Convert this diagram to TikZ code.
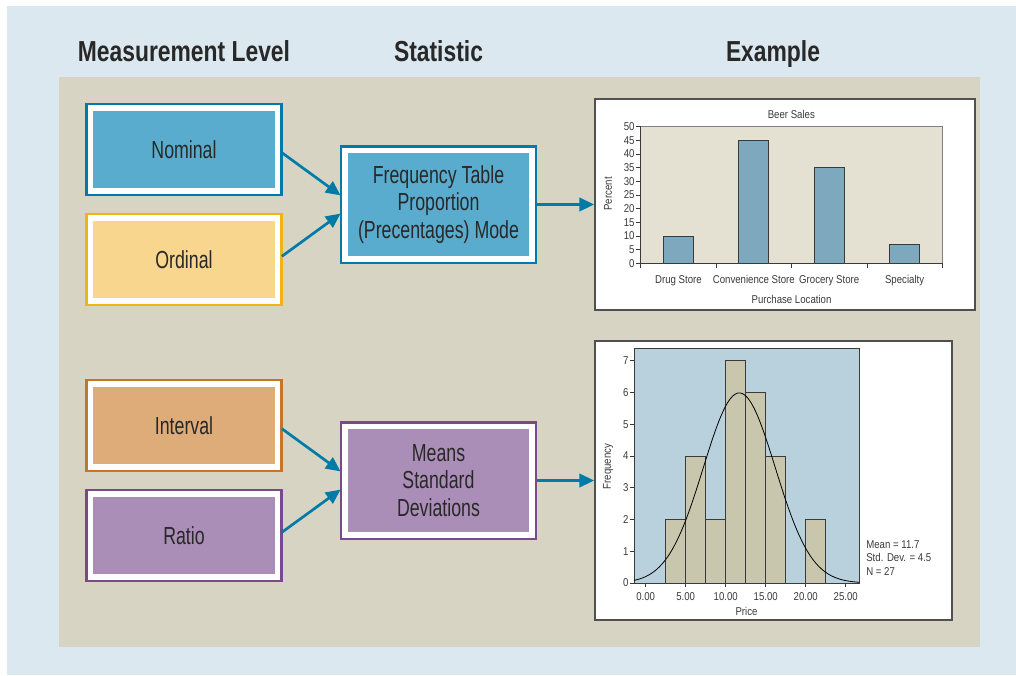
\documentclass[tikz,border=0pt]{standalone}
\usepackage{fontspec}
\setmainfont{Liberation Sans}[FakeStretch=0.72]
\newfontfamily\headfont{Liberation Sans}[FakeStretch=0.79]
\newfontfamily\chartfont{Liberation Sans}[FakeStretch=0.85]
\usepackage{tikz}
\usetikzlibrary{arrows.meta,positioning}

\definecolor{skyblue}{HTML}{DCE8F0}
\definecolor{sand}{HTML}{D8D4C3}
\definecolor{nomfill}{HTML}{5AACCE}
\definecolor{nomline}{HTML}{007AA6}
\definecolor{ordfill}{HTML}{F8D68E}
\definecolor{ordline}{HTML}{F0B414}
\definecolor{intfill}{HTML}{DEAC78}
\definecolor{intline}{HTML}{C47628}
\definecolor{ratfill}{HTML}{AB8EB8}
\definecolor{ratline}{HTML}{7A488C}
\definecolor{plotbg}{HTML}{E5E1D2}
\definecolor{barfill}{HTML}{7EA8BE}
\definecolor{histbg}{HTML}{B9D0DD}
\definecolor{histbar}{HTML}{C8C6AC}
\definecolor{framegray}{HTML}{505050}
\definecolor{axisgray}{HTML}{3A3A3A}
\definecolor{ink}{HTML}{282828}

\begin{document}
\begin{tikzpicture}[
  x=0.75pt, y=-0.75pt,
  every node/.style={text=ink},
  lvlbox/.style 2 args={fill=#1, draw=white, line width=4.1pt,
        preaction={draw=#2, line width=7.9pt},
        minimum width=140.25pt, minimum height=62.25pt,
        inner sep=0pt, outer sep=0pt,
        font=\fontsize{18.5}{20.5}\selectfont, align=center},
  statbox/.style 2 args={lvlbox={#1}{#2}, minimum height=81.4pt},
  chartbox/.style={draw=framegray, line width=1.3pt, fill=white, inner sep=0pt},
  colhead/.style={font=\headfont\bfseries\fontsize{21.7}{24}\selectfont, anchor=base},
  arr/.style={-{Triangle[length=11pt,width=10pt]}, line width=2pt, draw=nomline},
  lbl/.style={font=\chartfont\fontsize{8.5}{10}\selectfont, text=axisgray}
]
  % backgrounds
  \useasboundingbox (0,0) rectangle (1016,675);
  \fill[skyblue] (7,6) rectangle (1016,675);
  \fill[sand] (59,77) rectangle (980,647);

  % column headings
  \node[colhead] (hlevel) at (184,61.7)   {Measurement Level};
  \node[colhead] (hstat)  at (438.5,61.7) {Statistic};
  \node[colhead] (hexam)  at (773,61.7)   {Example};

  % measurement levels
  \node[lvlbox={nomfill}{nomline}] (nom) at (184,149.5) {Nominal};
  \node[lvlbox={ordfill}{ordline}, below=20.25pt of nom] (ord) {Ordinal};
  \node[lvlbox={intfill}{intline}] (int) at (184,425.5) {Interval};
  \node[lvlbox={ratfill}{ratline}, below=20.25pt of int] (rat) {Ratio};

  % statistics
  \node[statbox={nomfill}{nomline}] (freq) at (438.5,204.5)
        {Frequency Table\\Proportion\\(Precentages) Mode};
  \node[statbox={ratfill}{ratline}] (means) at (438.5,480.5)
        {Means\\Standard\\Deviations};

  % example frames
  \node[chartbox, minimum width=285pt, minimum height=158.25pt] (bars) at (785,204.5) {};
  \node[chartbox, minimum width=267.75pt, minimum height=209.25pt] (hist) at (773.5,480.5) {};

  \draw[arr, shorten <=4.1pt, shorten >=4.1pt] (nom.east) -- ([yshift=4.4pt]freq.west);
  \draw[arr, shorten <=4.1pt, shorten >=4.1pt] (ord.east) -- ([yshift=-4.4pt]freq.west);
  \draw[arr, shorten <=4.1pt, shorten >=4.1pt] (int.east) -- ([yshift=4.4pt]means.west);
  \draw[arr, shorten <=4.1pt, shorten >=4.1pt] (rat.east) -- ([yshift=-4.4pt]means.west);
  \draw[arr, shorten <=4.1pt] (freq.east) -- (freq.east -| bars.west);
  \draw[arr, shorten <=4.1pt] (means.east) -- (means.east -| hist.west);

  % bar chart
  \begin{scope}[shift={(640.7,263.3)}, x=0.75pt, y=2.049pt]
    \fill[plotbg] (0,0) rectangle (301.6,50);
    \draw[gray, line width=0.6pt] (0,50) -- (301.6,50) -- (301.6,0);
    \foreach \i/\h in {0/10, 1/45, 2/35, 3/7}
      \draw[fill=barfill, draw=axisgray, line width=0.7pt] ({22.6+75.4*\i},0) rectangle ++(30,\h);
    \draw[axisgray, line width=0.9pt] (0,50) -- (0,0) -- (301.6,0);
    \foreach \t in {0,5,...,50}
      \draw[axisgray, line width=0.6pt] (0,\t) -- ++(-3.5pt,0pt)
        node[lbl, anchor=east, inner sep=0.8pt] {\t};
    \foreach \i in {0,...,4}
      \draw[axisgray, line width=0.6pt] ({75.4*\i},0) -- ++(0pt,-3.5pt);
    \foreach \i/\name in {0/Drug Store, 1/Convenience Store, 2/Grocery Store, 3/Specialty}
      \node[lbl, anchor=base, yshift=-14.8pt] (cat\i) at ({37.7+75.4*\i},0) {\name};
    \node[lbl, anchor=base, yshift=-30.5pt] (bxlab) at (150.8,0) {Purchase Location};
    \node[lbl, anchor=base, yshift=6.5pt] (btitle) at (150.6,50) {Beer Sales};
    \node[lbl, rotate=90] (bylab) at (-32.7,25.4) {Percent};
  \end{scope}

  % histogram
  \begin{scope}[shift={(645.7,583)}, x=6pt, y=23.82pt]
    \fill[histbg] (-1.46,0) rectangle (26.66,7.37);
    \foreach \a/\h in {2.5/2, 5/4, 7.5/2, 10/7, 12.5/6, 15/4, 20/2}
      \draw[fill=histbar, draw=axisgray, line width=0.7pt] (\a,0) rectangle ++(2.5,\h);
    \draw[axisgray, line width=0.7pt] (-1.46,0) rectangle (26.66,7.37);
    \draw[black, line width=0.6pt, smooth, samples=90, domain=-1.46:26.66]
      plot (\x, {5.985*exp(-((\x-11.7)^2)/40.5)});
    \foreach \t in {0,...,7}
      \draw[axisgray, line width=0.6pt] (-1.46,\t) -- ++(-3pt,0pt)
        node[lbl, anchor=east, inner sep=0.8pt] {\t};
    \foreach \p/\s in {0/0.00, 5/5.00, 10/10.00, 15/15.00, 20/20.00, 25/25.00}
      \draw[axisgray, line width=0.6pt] (\p,0) -- ++(0pt,-3pt)
        node[lbl, anchor=base, yshift=-9.75pt, inner sep=0pt] {\s};
    \node[lbl, anchor=base, yshift=-24pt] (hxlab) at (12.6,0) {Price};
    \node[lbl, rotate=90] (hylab) at (-4.71,3.67) {Frequency};
    \foreach \k/\s in {0/Mean = 11.7, 1/Std. Dev. = 4.5, 2/N = 27}
      \node[lbl, anchor=base west, inner sep=0pt] (stat\k) at (27.54,{1.102-0.425*\k}) {\s};
  \end{scope}
\end{tikzpicture}
\end{document}
